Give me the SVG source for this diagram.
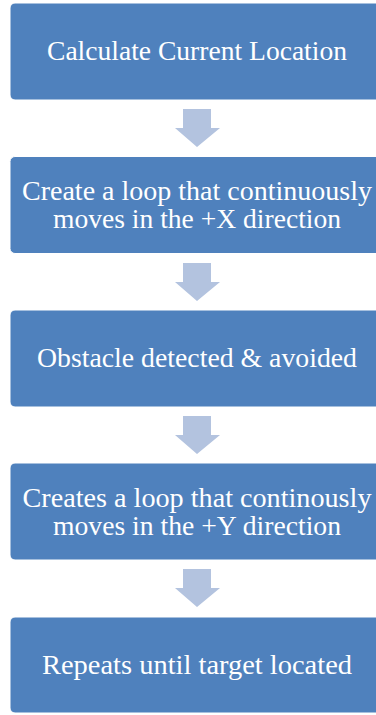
<svg xmlns="http://www.w3.org/2000/svg" width="376" height="715" viewBox="0 0 376 715">
<style>
.box{fill:#4F81BD;stroke:#FFFFFF;stroke-width:1}
.arr{fill:#B3C3DF}
text{font-family:"Liberation Serif","DejaVu Serif",serif;font-size:27px;fill:#FFFFFF;text-anchor:middle}
</style>
<rect width="376" height="715" fill="#FFFFFF"/>
<g id="connectors">
<polygon class="arr" points="183,109 211,109 211,128 220,128 197,147 175,128 183,128"/>
<polygon class="arr" points="183,263 211,263 211,282 220,282 197,301 175,282 183,282"/>
<polygon class="arr" points="183,416 211,416 211,435 220,435 197,454 175,435 183,435"/>
<polygon class="arr" points="183,569 211,569 211,588 220,588 197,607 175,588 183,588"/>
</g>
<g id="node1">
<rect class="box" x="10" y="3" width="374" height="97" rx="5"/>
<text x="197" y="60" textLength="300" lengthAdjust="spacingAndGlyphs">Calculate Current Location</text>
</g>
<g id="node2">
<rect class="box" x="10" y="156.500" width="374" height="97" rx="5"/>
<text x="197" y="200" textLength="350" lengthAdjust="spacingAndGlyphs">Create a loop that continuously</text>
<text x="197" y="228" textLength="288" lengthAdjust="spacingAndGlyphs">moves in the +X direction</text>
</g>
<g id="node3">
<rect class="box" x="10" y="310" width="374" height="97" rx="5"/>
<text x="197" y="367" textLength="320" lengthAdjust="spacingAndGlyphs">Obstacle detected &amp; avoided</text>
</g>
<g id="node4">
<rect class="box" x="10" y="463" width="374" height="97" rx="5"/>
<text x="197" y="507" textLength="349" lengthAdjust="spacingAndGlyphs">Creates a loop that continously</text>
<text x="197" y="535" textLength="288" lengthAdjust="spacingAndGlyphs">moves in the +Y direction</text>
</g>
<g id="node5">
<rect class="box" x="10" y="617" width="374" height="96" rx="5"/>
<text x="197" y="674" textLength="310" lengthAdjust="spacingAndGlyphs">Repeats until target located</text>
</g>
</svg>
